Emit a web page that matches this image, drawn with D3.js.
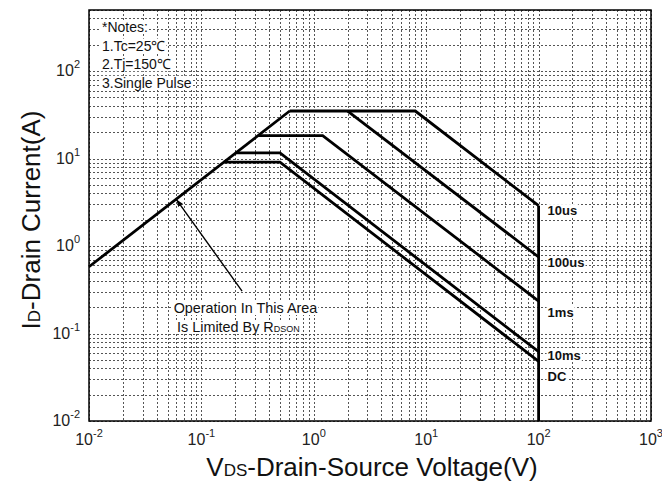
<!DOCTYPE html>
<html>
<head>
<meta charset="utf-8">
<script src="https://cdn.jsdelivr.net/npm/d3@7"></script>
<style>
  body { margin: 0; background: #fff; }
  svg { display: block; font-family: Arial, "Liberation Sans", sans-serif; }
</style>
</head>
<body>
<div id="chart"></div>
<script>
const width = 662, height = 484;
const margin = { top: 10, right: 11, bottom: 63, left: 89 };

// SOA boundaries, points are [Vds (V), Id (A)]
const rdsLimit = [[0.01, 0.58], [0.61, 35]];
const pulse10us = [[0.61, 35], [8, 35], [100, 2.9]];
const pulse100us = [[2, 35], [100, 0.75]];
const pulse1ms = [[0.32, 18.3], [1.2, 18.3], [100, 0.235]];
const pulse10ms = [[0.2, 11.6], [0.5, 11.6], [100, 0.062]];
const pulseDC = [[0.157, 9.1], [0.5, 9.1], [100, 0.048]];
const vdsMax = [[100, 2.9], [100, 0.01]];

const curveLabels = ["10us", "100us", "1ms", "10ms", "DC"];
const labelCurrents = [2.26, 0.575, 0.155, 0.05, 0.0286];

const xTickExp = [-2, -1, 0, 1, 2, 3];
const yTickExp = [-2, -1, 0, 1, 2];
const notes = ["*Notes:", "1.Tc=25℃", "2.Tj=150℃", "3.Single Pulse"];

const arrowFrom = [0.23, 0.306];
const arrowTo = [0.06, 3.4];

const x = d3.scaleLog().domain([0.01, 1000]).range([margin.left, width - margin.right]);
const y = d3.scaleLog().domain([0.01, 500]).range([height - margin.bottom, margin.top]);

const svg = d3.select("#chart").append("svg")
  .attr("width", width)
  .attr("height", height);

svg.append("defs").append("marker")
  .attr("id", "arrow")
  .attr("viewBox", "0 -5 10 10")
  .attr("refX", 10)
  .attr("refY", 0)
  .attr("markerWidth", 7)
  .attr("markerHeight", 7)
  .attr("markerUnits", "userSpaceOnUse")
  .attr("orient", "auto")
  .append("path")
  .attr("d", "M0,-4L10,0L0,4Z")
  .attr("fill", "#000");

// grid
const grid = svg.append("g")
  .attr("stroke", "#555")
  .attr("stroke-width", 1)
  .attr("stroke-dasharray", "2,2");

grid.selectAll("line.gx")
  .data(x.ticks())
  .join("line")
  .attr("class", "gx")
  .attr("x1", d => Math.round(x(d)) + 0.5)
  .attr("x2", d => Math.round(x(d)) + 0.5)
  .attr("y1", y.range()[1])
  .attr("y2", y.range()[0]);

grid.selectAll("line.gy")
  .data(y.ticks())
  .join("line")
  .attr("class", "gy")
  .attr("y1", d => Math.round(y(d)) + 0.5)
  .attr("y2", d => Math.round(y(d)) + 0.5)
  .attr("x1", x.range()[0])
  .attr("x2", x.range()[1]);

// text with white box behind it
function boxedText(g, node) {
  const b = node.getBBox();
  g.insert("rect", () => node)
    .attr("x", b.x - 1)
    .attr("y", b.y + 1)
    .attr("width", b.width + 2)
    .attr("height", b.height - 2)
    .attr("fill", "#fff");
}

// notes
const notesG = svg.append("g").attr("font-size", 14).attr("fill", "#111");
notes.forEach((t, i) => {
  const el = notesG.append("text")
    .attr("x", margin.left + 13)
    .attr("y", margin.top + 22 + i * 18.6)
    .text(t);
  boxedText(notesG, el.node());
});

// curves
const line = d3.line().x(d => x(d[0])).y(d => y(d[1]));
const curves = [rdsLimit, pulse10us, pulse100us, pulse1ms, pulse10ms, pulseDC, vdsMax];

svg.append("g")
  .attr("fill", "none")
  .attr("stroke", "#000")
  .attr("stroke-width", 2.8)
  .attr("stroke-linejoin", "miter")
  .selectAll("path")
  .data(curves)
  .join("path")
  .attr("d", line);

// curve labels
const labG = svg.append("g")
  .attr("font-size", 13)
  .attr("font-weight", "bold")
  .attr("fill", "#111");
curveLabels.forEach((t, i) => {
  const el = labG.append("text")
    .attr("x", x(100) + 9)
    .attr("y", y(labelCurrents[i]))
    .text(t);
  boxedText(labG, el.node());
});

// annotation
svg.append("line")
  .attr("x1", x(arrowFrom[0]))
  .attr("y1", y(arrowFrom[1]))
  .attr("x2", x(arrowTo[0]))
  .attr("y2", y(arrowTo[1]))
  .attr("stroke", "#000")
  .attr("stroke-width", 1.4)
  .attr("marker-end", "url(#arrow)");

const annG = svg.append("g").attr("font-size", 14.4).attr("fill", "#111");
const a1 = annG.append("text")
  .attr("x", 245.5)
  .attr("y", 313)
  .attr("text-anchor", "middle")
  .text("Operation In This Area");
boxedText(annG, a1.node());
const a2 = annG.append("text")
  .attr("x", 177)
  .attr("y", 332);
a2.append("tspan").text("Is Limited By R");
a2.append("tspan").attr("font-size", 9).text("DSON");
boxedText(annG, a2.node());

// frame
svg.append("rect")
  .attr("x", x.range()[0])
  .attr("y", y.range()[1])
  .attr("width", x.range()[1] - x.range()[0])
  .attr("height", y.range()[0] - y.range()[1])
  .attr("fill", "none")
  .attr("stroke", "#000")
  .attr("stroke-width", 1.5);

// tick labels
const tickG = svg.append("g").attr("font-size", 16).attr("fill", "#222");
xTickExp.forEach(e => {
  const t = tickG.append("text")
    .attr("x", x(Math.pow(10, e)))
    .attr("y", height - margin.bottom + 24)
    .attr("text-anchor", "middle");
  t.append("tspan").text("10");
  t.append("tspan").attr("font-size", 11).attr("dy", -8).text(e);
});
yTickExp.forEach(e => {
  const t = tickG.append("text")
    .attr("x", margin.left - 9)
    .attr("y", y(Math.pow(10, e)) + 5)
    .attr("text-anchor", "end");
  t.append("tspan").text("10");
  t.append("tspan").attr("font-size", 11).attr("dy", -8).text(e);
});

// axis titles
const xt = svg.append("text")
  .attr("x", 372)
  .attr("y", 476)
  .attr("text-anchor", "middle")
  .attr("font-size", 26)
  .attr("fill", "#111");
xt.append("tspan").text("V");
xt.append("tspan").attr("font-size", 17).text("DS");
xt.append("tspan").text("-Drain-Source Voltage(V)");

const yt = svg.append("text")
  .attr("transform", "translate(40,220) rotate(-90)")
  .attr("text-anchor", "middle")
  .attr("font-size", 26)
  .attr("fill", "#111");
yt.append("tspan").text("I");
yt.append("tspan").attr("font-size", 17).text("D");
yt.append("tspan").text("-Drain Current(A)");
</script>
</body>
</html>
